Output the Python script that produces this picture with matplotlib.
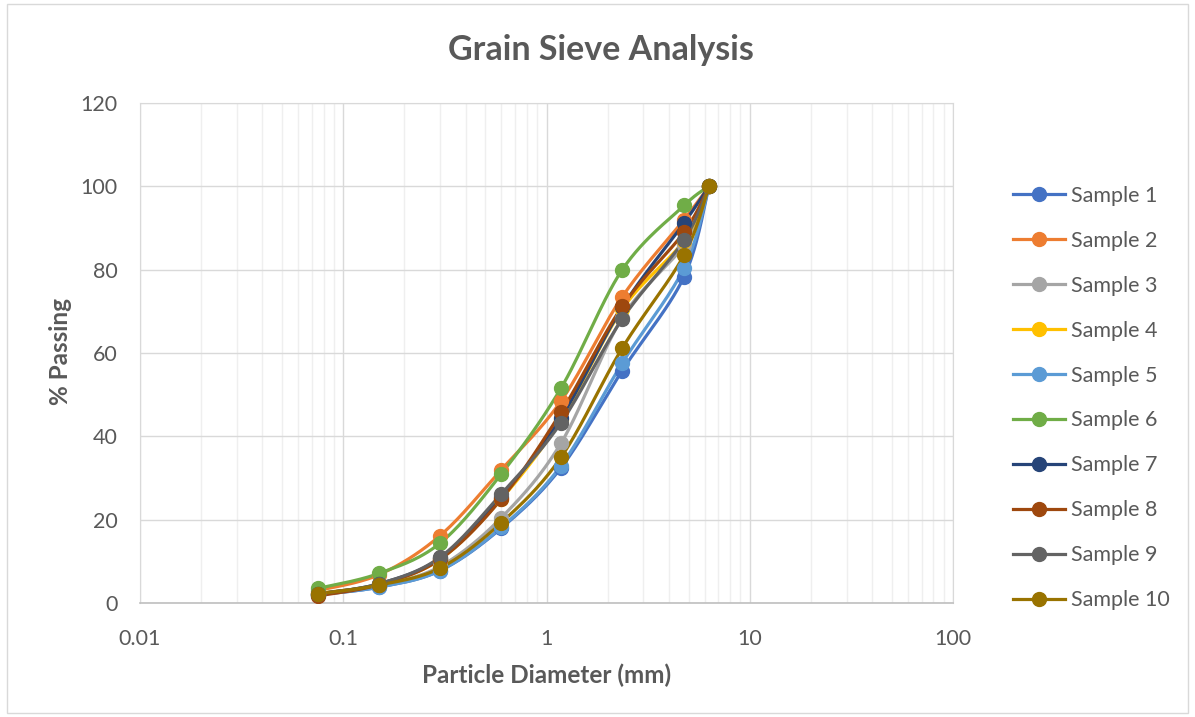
import numpy as np
import matplotlib
matplotlib.use("Agg")
import matplotlib.pyplot as plt
from matplotlib.patches import Rectangle
from matplotlib.ticker import LogLocator, FixedLocator, NullFormatter

# --------------------------------------------------------------
# DATA
# --------------------------------------------------------------
sieve_mm = [0.075, 0.15, 0.3, 0.6, 1.18, 2.36, 4.75, 6.3]

sample_1 = [2.0, 3.8, 7.8, 18.0, 32.5, 55.8, 78.3, 100]
sample_2 = [3.0, 6.8, 16.2, 32.0, 48.5, 73.5, 92.0, 100]
sample_3 = [2.1, 4.2, 8.8, 20.5, 38.4, 68.5, 86.0, 100]
sample_4 = [2.3, 4.5, 10.5, 25.0, 44.0, 70.5, 87.0, 100]
sample_5 = [2.0, 3.8, 7.8, 18.2, 33.0, 57.6, 80.4, 100]
sample_6 = [3.5, 7.1, 14.4, 31.0, 51.6, 80.0, 95.4, 100]
sample_7 = [2.2, 4.6, 10.8, 25.5, 44.5, 71.0, 91.2, 100]
sample_8 = [1.7, 4.4, 10.5, 25.0, 45.8, 71.2, 89.0, 100]
sample_9 = [2.2, 4.6, 11.0, 26.2, 43.3, 68.2, 87.1, 100]
sample_10 = [2.2, 4.3, 8.4, 19.3, 35.0, 61.2, 83.5, 100]

labels = ["Sample %d" % i for i in range(1, 11)]
series = [sample_1, sample_2, sample_3, sample_4, sample_5,
          sample_6, sample_7, sample_8, sample_9, sample_10]
colors = ["#4472C4", "#ED7D31", "#A5A5A5", "#FFC000", "#5B9BD5",
          "#70AD47", "#264478", "#9E480E", "#636363", "#997300"]

TEXT = "#595959"
plt.rcParams["font.family"] = ["Lato", "DejaVu Sans"]


# Excel-like smoothed line (Bezier through the points, in screen-ish space)
def smooth_curve(xs, ys, sx=203.0, sy=4.17, n=30):
    u = np.log10(np.asarray(xs, float)) * sx
    v = np.asarray(ys, float) * sy
    pts = np.column_stack([u, v])
    out = [pts[0]]
    t = np.linspace(0, 1, n)[1:]
    for i in range(len(pts) - 1):
        p0 = pts[max(i - 1, 0)]
        p1 = pts[i]
        p2 = pts[i + 1]
        p3 = pts[min(i + 2, len(pts) - 1)]
        c1 = p1 + (p2 - p0) / 6.0
        c2 = p2 - (p3 - p1) / 6.0
        for tt in t:
            b = ((1 - tt) ** 3) * p1 + 3 * ((1 - tt) ** 2) * tt * c1 \
                + 3 * (1 - tt) * tt ** 2 * c2 + tt ** 3 * p2
            out.append(b)
    out = np.array(out)
    return 10 ** (out[:, 0] / sx), out[:, 1] / sy


# --------------------------------------------------------------
# PLOT
# --------------------------------------------------------------
fig = plt.figure(figsize=(11.95, 7.17), dpi=100)
ax = fig.add_axes([140 / 1195, (717 - 603) / 717, (953 - 140) / 1195, 500 / 717])

for vals, lab, col in zip(series, labels, colors):
    sxv, syv = smooth_curve(sieve_mm, vals)
    ax.plot(sxv, syv, color=col, lw=2.3, zorder=3, solid_capstyle="round")
    ax.plot(sieve_mm, vals, "o", color=col, ms=10, zorder=4)
    ax.plot([], [], "-o", color=col, lw=2.3, ms=10, label=lab)

ax.set_xscale("log")
ax.set_xlim(0.01, 100)
ax.set_ylim(0, 120)
ax.yaxis.set_major_locator(FixedLocator([0, 20, 40, 60, 80, 100, 120]))
ax.xaxis.set_major_locator(FixedLocator([0.01, 0.1, 1, 10, 100]))
ax.set_xticklabels(["0.01", "0.1", "1", "10", "100"])
ax.xaxis.set_minor_locator(LogLocator(base=10, subs=np.arange(2, 10), numticks=20))
ax.xaxis.set_minor_formatter(NullFormatter())

ax.grid(True, which="major", color="#D9D9D9", lw=1.0, zorder=0)
ax.grid(True, which="minor", axis="x", color="#EFEFEF", lw=1.0, zorder=0)
ax.set_axisbelow(True)

for s in ["top", "right", "left"]:
    ax.spines[s].set_color("#D9D9D9")
ax.spines["bottom"].set_color("#BFBFBF")
ax.spines["bottom"].set_linewidth(1.2)

ax.tick_params(which="both", length=0, labelsize=15.5, colors=TEXT)
ax.tick_params(axis="x", pad=19)
ax.tick_params(axis="y", pad=16)

fig.text(547 / 1195, 1 - 675 / 717, "Particle Diameter (mm)", ha="center", va="center",
         fontsize=17.5, fontweight="bold", color=TEXT)
fig.text(60 / 1195, 1 - 352 / 717, "% Passing", ha="center", va="center", rotation=90,
         fontsize=17.5, fontweight="bold", color=TEXT)

fig.text(601 / 1195, 1 - 50 / 717, "Grain Sieve Analysis", ha="center", va="center",
         fontsize=24.5, fontweight="bold", color=TEXT)

leg = fig.legend(loc="upper left", bbox_to_anchor=(1004 / 1195, 1 - 177 / 717),
                 frameon=False, fontsize=15.5, labelspacing=1.16, handlelength=2.45,
                 handletextpad=0.25, borderaxespad=0)
for t in leg.get_texts():
    t.set_color(TEXT)

# chart area border
fig.patches.append(Rectangle((7 / 1195, 4 / 717), 1 - 14 / 1195, 1 - 8 / 717,
                             transform=fig.transFigure, fill=False,
                             edgecolor="#D9D9D9", lw=1.0))

fig.savefig("out.png", dpi=100)
